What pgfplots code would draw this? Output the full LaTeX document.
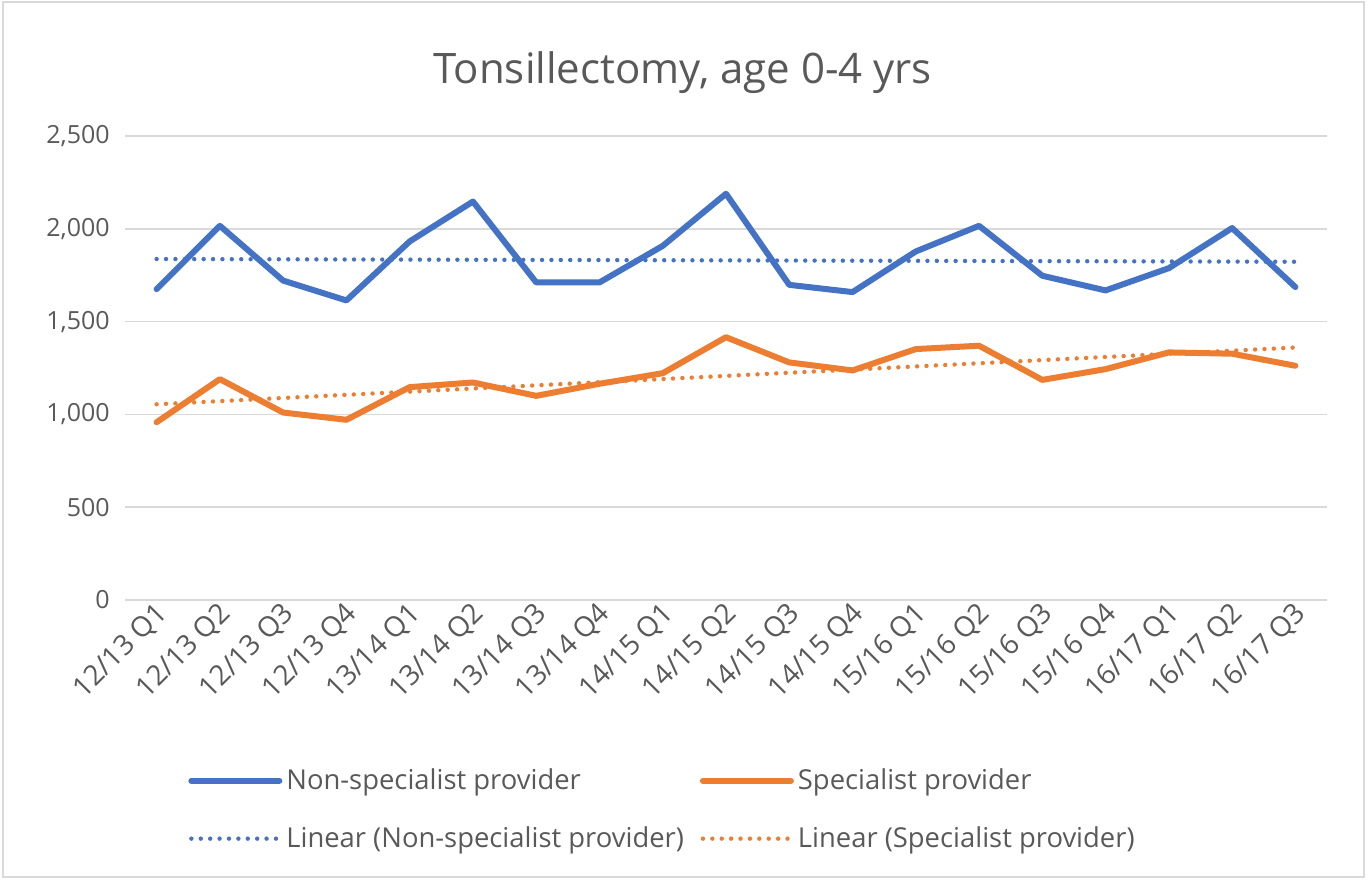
\documentclass[border=0pt]{standalone}
\usepackage{pgfplots}
\usepackage{pgfplotstable}
\pgfplotsset{compat=1.18}
\usepackage{fontspec}
\setmainfont{Open Sans}
\definecolor{cblue}{RGB}{68,114,196}
\definecolor{corange}{RGB}{237,125,49}
\definecolor{ctext}{RGB}{89,89,89}
\definecolor{cgrid}{RGB}{217,217,217}

\pgfplotstableread{
x a b
0 1675 958
1 2016 1190
2 1721 1010
3 1614 971
4 1932 1147
5 2147 1172
6 1711 1100
7 1711 1165
8 1908 1222
9 2189 1416
10 1698 1280
11 1659 1237
12 1878 1352
13 2016 1370
14 1747 1186
15 1668 1244
16 1788 1334
17 2004 1327
18 1686 1262
}\datatable

\begin{document}
\begin{tikzpicture}[x=1pt,y=1pt]
\useasboundingbox (0,0) rectangle (684.5,439.5);
\draw[cgrid, line width=0.75pt] (1.5,1) rectangle (682,438.5);
\begin{axis}[
  at={(62.5pt,139.5pt)}, anchor=south west,
  scale only axis, width=601pt, height=232pt,
  xmin=-0.5, xmax=18.5, ymin=0, ymax=2500,
  ytick={0,500,...,2500},
  xtick={0,...,18},
  xticklabels={12/13 Q1,12/13 Q2,12/13 Q3,12/13 Q4,13/14 Q1,13/14 Q2,13/14 Q3,13/14 Q4,14/15 Q1,14/15 Q2,14/15 Q3,14/15 Q4,15/16 Q1,15/16 Q2,15/16 Q3,15/16 Q4,16/17 Q1,16/17 Q2,16/17 Q3},
  axis lines=left,
  axis line style={draw=none},
  tick style={draw=none},
  ymajorgrids,
  grid style={cgrid, line width=0.75pt},
  /pgf/number format/.cd, 1000 sep={,}, assume math mode=true,
  /pgfplots/.cd,
  yticklabel style={font=\fontsize{12.5}{14}\selectfont, text=ctext, xshift=-2pt},
  xticklabel style={font=\fontsize{14}{16}\selectfont, text=ctext, rotate=45, anchor=east, xshift=4pt, yshift=-4pt},
  title={Tonsillectomy, age 0-4 yrs},
  title style={font=\fontsize{21}{24}\selectfont, text=ctext, at={(axis description cs:0.464,1.142)}, anchor=center, yshift=-7pt},
  legend columns=2,
  legend style={draw=none, fill=none, at={(axis description cs:0.448,-0.452)}, anchor=center,
    font=\fontsize{13.7}{15}\selectfont, text=ctext,
    /tikz/every even column/.append style={column sep=6pt},
    row sep=13pt},
  legend cell align=left,
  legend image code/.code={\draw[#1] (0pt,0pt) -- (44pt,0pt);},
]
\addplot[cblue, line width=3pt, line join=round, line cap=round] table[x=x, y=a] {\datatable};
\addlegendentry{Non-specialist provider}
\addplot[corange, line width=3pt, line join=round, line cap=round] table[x=x, y=b] {\datatable};
\addlegendentry{Specialist provider}
\addplot[cblue, line width=2.2pt, line cap=round, dash pattern=on 0pt off 4.7pt] table[x=x, y={create col/linear regression={y=a}}] {\datatable};
\addlegendentry{Linear (Non-specialist provider)}
\addplot[corange, line width=2.2pt, line cap=round, dash pattern=on 0pt off 4.7pt] table[x=x, y={create col/linear regression={y=b}}] {\datatable};
\addlegendentry{Linear (Specialist provider)}
\end{axis}
\end{tikzpicture}
\end{document}
